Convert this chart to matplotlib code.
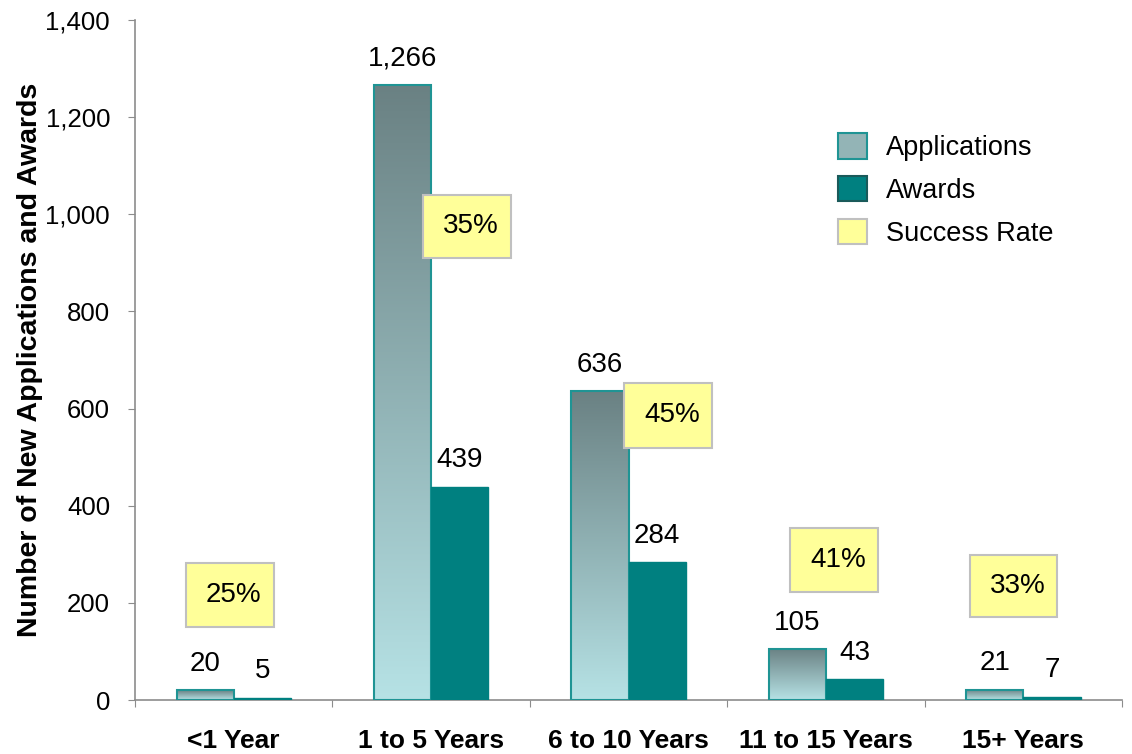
import numpy as np
import matplotlib
matplotlib.use("Agg")
import matplotlib.pyplot as plt
from matplotlib.colors import LinearSegmentedColormap
from matplotlib.patches import Patch

categories = ["<1 Year", "1 to 5 Years", "6 to 10 Years", "11 to 15 Years", "15+ Years"]
applications = [20, 1266, 636, 105, 21]
awards = [5, 439, 284, 43, 7]
success_rate = ["25%", "35%", "45%", "41%", "33%"]

# where the yellow boxes sit (x offset from group centre, y bottom/top in data units)
box_dx = [-0.02, 0.18, 0.2, 0.04, -0.05]
box_y = [(150, 282), (910, 1040), (519, 653), (222, 354), (171, 298)]

plt.rcParams['font.family'] = ['Liberation Sans', 'DejaVu Sans']

teal = '#008080'
edge_teal = '#1f9494'
yellow = '#ffff99'
axis_gray = '#8c8c8c'
grad = LinearSegmentedColormap.from_list('apps', ['#b6e2e5', '#6a8183'])

fig = plt.figure(figsize=(11.32, 7.54), dpi=100)
ax = fig.add_axes([0.1193, 0.0716, 0.8719, 0.9019])

x = np.arange(len(categories)) + 0.5
w = 0.29

app_bars = ax.bar(x - w / 2, applications, w, color='none', edgecolor=edge_teal, linewidth=1.5, zorder=3)
ax.bar(x + w / 2, awards, w, color=teal, edgecolor=teal, linewidth=1.0, zorder=3)

# vertical gradient inside every applications bar
g = np.linspace(0, 1, 256).reshape(-1, 1)
for b in app_bars:
    x0, y0 = b.get_x(), b.get_y()
    im = ax.imshow(g, cmap=grad, aspect='auto', origin='lower',
                   extent=[x0, x0 + b.get_width(), y0, y0 + b.get_height()], zorder=2)
    im.set_clip_path(b)

for xi, a, r in zip(x, applications, awards):
    ax.annotate(f"{a:,}", (xi - w / 2, a), xytext=(0, 19), textcoords='offset points',
                ha='center', va='center', fontsize=20)
    ax.annotate(f"{r:,}", (xi + w / 2, r), xytext=(0, 19), textcoords='offset points',
                ha='center', va='center', fontsize=20)

for xi, dx, (yb, yt), s in zip(x, box_dx, box_y, success_rate):
    bw = 0.445
    ax.add_patch(plt.Rectangle((xi + dx - bw / 2, yb), bw, yt - yb, facecolor=yellow,
                               edgecolor='#c0c0c0', linewidth=1.5, zorder=4))
    ax.text(xi + dx + 0.02, (yb + yt) / 2, s, ha='center', va='center', fontsize=20, zorder=5)

ax.set_xlim(0, len(categories))
ax.set_ylim(0, 1400)
ax.set_yticks(range(0, 1401, 200))
ax.yaxis.set_major_formatter(matplotlib.ticker.FuncFormatter(lambda v, p: f"{int(v):,}"))
ax.set_xticks(np.arange(len(categories) + 1))
ax.set_xticklabels([])
ax.set_xticks(x, minor=True)
ax.set_xticklabels(categories, minor=True, fontsize=19, fontweight='bold')
ax.tick_params(axis='x', which='minor', length=0, pad=21)
ax.tick_params(axis='x', which='major', length=5, color=axis_gray, direction='out')
ax.tick_params(axis='y', length=5, color=axis_gray, labelsize=18.5, pad=13)

for s in ['top', 'right']:
    ax.spines[s].set_visible(False)
for s in ['left', 'bottom']:
    ax.spines[s].set_color(axis_gray)
    ax.spines[s].set_linewidth(1.2)

ax.set_ylabel("Number of New Applications and Awards", fontsize=20.5, fontweight='bold', labelpad=2)

handles = [Patch(facecolor='#93b4b6', edgecolor=edge_teal, linewidth=1.5),
           Patch(facecolor=teal, edgecolor='#1a5a5a', linewidth=1.5),
           Patch(facecolor=yellow, edgecolor='#c0c0c0', linewidth=1.5)]
ax.legend(handles, ["Applications", "Awards", "Success Rate"], loc='upper left',
          bbox_to_anchor=(0.688, 0.869), frameon=False, fontsize=19.5,
          handlelength=1.05, handleheight=1.05, labelspacing=0.55, handletextpad=0.7)

fig.savefig("out.png", dpi=100)
